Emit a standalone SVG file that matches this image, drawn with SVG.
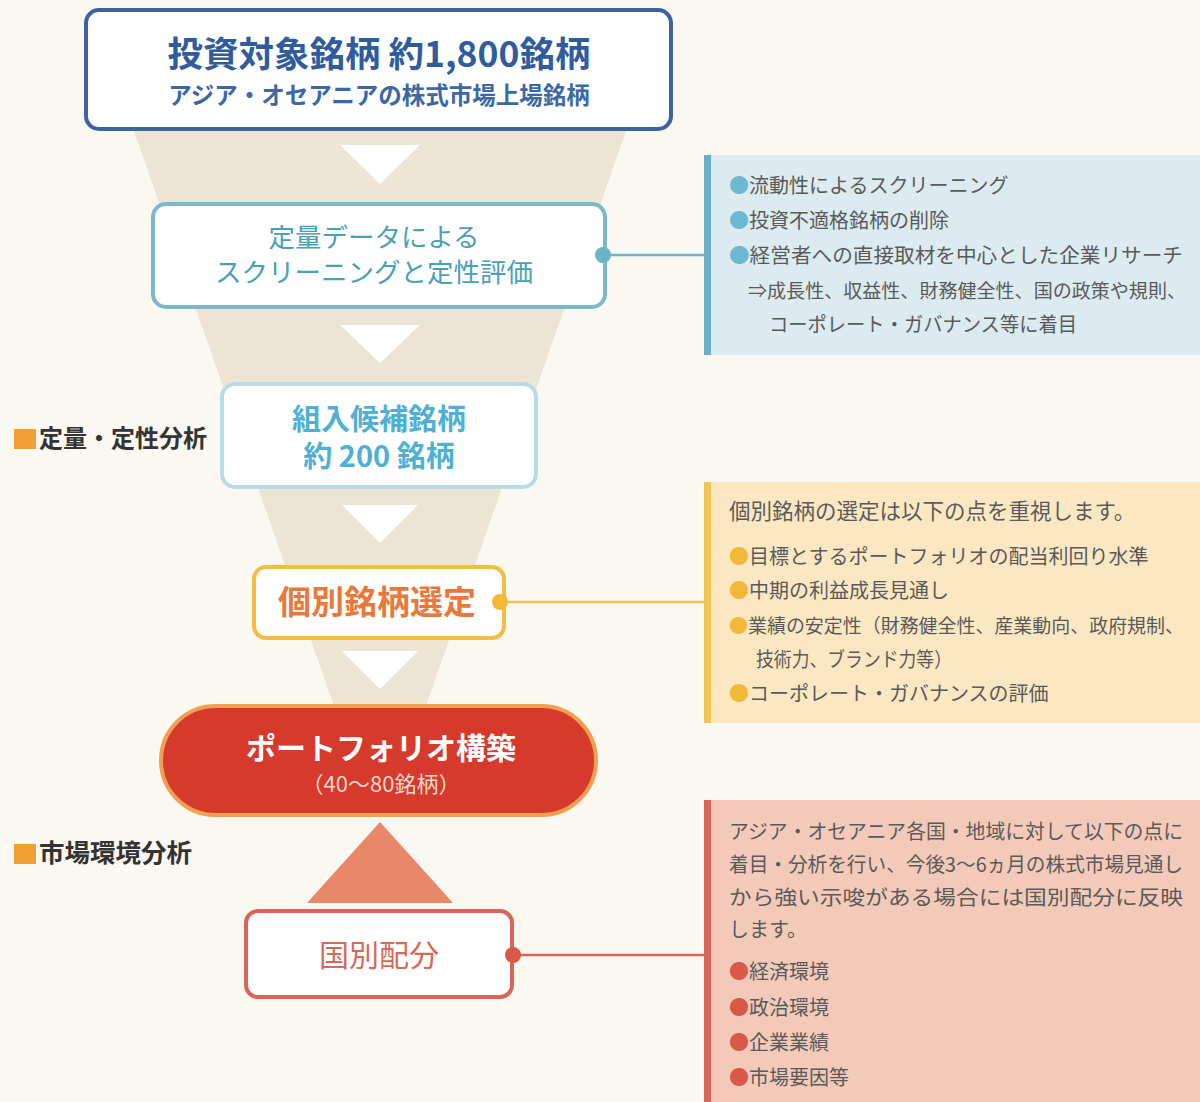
<svg xmlns="http://www.w3.org/2000/svg" width="1200" height="1102" viewBox="0 0 1200 1102">
<style>
text{font-family:"Noto Sans CJK JP","Noto Sans",sans-serif;}
.box{fill:#ffffff;stroke-width:4;}
.tri{fill:#ffffff;}
.ptxt{font-size:20px;fill:#5a5a5a;}
.lbl{font-size:24px;font-weight:bold;fill:#333333;}
.b1{fill:#6cb8d0;}
.b2{fill:#f2b83a;}
.b3{fill:#d9584a;}
.c{text-anchor:middle;}
</style>
<rect x="0" y="0" width="1200" height="1102" fill="#faf8f1"/>
<polygon points="133,128 627,128 424,712 336,712" fill="#ede5d4"/>

<g id="panel-screening">
<rect x="706" y="155" width="494" height="200" fill="#dcebf0"/>
<rect x="704" y="155" width="7" height="200" fill="#6aafc5"/>
<text class="ptxt" x="729" y="193"><tspan class="b1">●</tspan>流動性によるスクリーニング</text>
<text class="ptxt" x="729" y="228"><tspan class="b1">●</tspan>投資不適格銘柄の削除</text>
<text class="ptxt" x="729" y="263" textLength="454" lengthAdjust="spacingAndGlyphs"><tspan class="b1">●</tspan>経営者への直接取材を中心とした企業リサーチ</text>
<text class="ptxt" x="748" y="298" style="font-size:19px" textLength="438" lengthAdjust="spacingAndGlyphs">⇒成長性、収益性、財務健全性、国の政策や規則、</text>
<text class="ptxt" x="769" y="332" textLength="308" lengthAdjust="spacingAndGlyphs">コーポレート・ガバナンス等に着目</text>
</g>

<g id="panel-selection">
<rect x="706" y="482" width="494" height="241" fill="#fbe8c2"/>
<rect x="704" y="482" width="7" height="241" fill="#f2c456"/>
<text class="ptxt" x="729" y="519" style="font-size:21.5px">個別銘柄の選定は以下の点を重視します。</text>
<text class="ptxt" x="729" y="564"><tspan class="b2">●</tspan>目標とするポートフォリオの配当利回り水準</text>
<text class="ptxt" x="729" y="598"><tspan class="b2">●</tspan>中期の利益成長見通し</text>
<text class="ptxt" x="729" y="633" style="font-size:19px" textLength="455" lengthAdjust="spacingAndGlyphs"><tspan class="b2">●</tspan>業績の安定性（財務健全性、産業動向、政府規制、</text>
<text class="ptxt" x="756" y="667" textLength="196" lengthAdjust="spacingAndGlyphs">技術力、ブランド力等）</text>
<text class="ptxt" x="729" y="701"><tspan class="b2">●</tspan>コーポレート・ガバナンスの評価</text>
</g>

<g id="panel-country">
<rect x="706" y="800" width="494" height="302" fill="#f3cab9"/>
<rect x="704" y="800" width="7" height="302" fill="#d9655a"/>
<text class="ptxt" x="729" y="839" textLength="454" lengthAdjust="spacingAndGlyphs">アジア・オセアニア各国・地域に対して以下の点に</text>
<text class="ptxt" x="729" y="872" textLength="454" lengthAdjust="spacingAndGlyphs">着目・分析を行い、今後3～6ヵ月の株式市場見通し</text>
<text class="ptxt" x="729" y="905" textLength="454" lengthAdjust="spacingAndGlyphs">から強い示唆がある場合には国別配分に反映</text>
<text class="ptxt" x="729" y="937">します。</text>
<text class="ptxt" x="729" y="979"><tspan class="b3">●</tspan>経済環境</text>
<text class="ptxt" x="729" y="1015"><tspan class="b3">●</tspan>政治環境</text>
<text class="ptxt" x="729" y="1050"><tspan class="b3">●</tspan>企業業績</text>
<text class="ptxt" x="729" y="1085"><tspan class="b3">●</tspan>市場要因等</text>
</g>

<g id="node-universe">
<rect class="box" x="86" y="10" width="585" height="119" rx="13" stroke="#3d62a3"/>
<text class="c" x="379" y="67" style="font-size:35.5px;font-weight:bold;fill:#2f5c9c">投資対象銘柄 約1,800銘柄</text>
<text class="c" x="379" y="104" style="font-size:23.5px;font-weight:bold;fill:#3c68a6">アジア・オセアニアの株式市場上場銘柄</text>
</g>

<g id="node-screening">
<rect class="box" x="153" y="204" width="452" height="103" rx="13" stroke="#7cb8ca"/>
<text class="c" style="font-size:26.5px;fill:#4aa0b8"><tspan x="374" y="247">定量データによる</tspan><tspan x="374" y="282">スクリーニングと定性評価</tspan></text>
</g>

<g id="node-candidates">
<rect class="box" x="222" y="384" width="314" height="103" rx="13" stroke="#b8dbe6"/>
<text class="c" style="font-size:29px;font-weight:bold;fill:#4fb0d6"><tspan x="379" y="430">組入候補銘柄</tspan><tspan x="379" y="467">約 200 銘柄</tspan></text>
</g>

<g id="node-selection">
<rect class="box" x="254" y="567" width="250" height="71" rx="12" stroke="#f2bc45"/>
<text class="c" x="377" y="614" style="font-size:33px;font-weight:bold;fill:#e8793a">個別銘柄選定</text>
</g>

<g id="node-portfolio">
<rect x="161" y="706" width="435" height="109" rx="54.5" fill="#d53a2c" stroke="#f0a050" stroke-width="4"/>
<text class="c" x="381" y="759" style="font-size:30px;font-weight:bold;fill:#ffffff">ポートフォリオ構築</text>
<text class="c" x="381" y="792" style="font-size:22px;fill:#f8d6c8">（40～80銘柄）</text>
</g>

<g id="node-country">
<rect class="box" x="246" y="911" width="266" height="86" rx="12" stroke="#d9655a"/>
<text class="c" x="379" y="966" style="font-size:30px;fill:#d86858">国別配分</text>
</g>

<g id="label-quant">
<rect x="14" y="429" width="22" height="20" fill="#f0a035"/>
<text class="lbl" x="39" y="447">定量・定性分析</text>
</g>
<g id="label-market">
<rect x="14" y="844" width="22" height="20" fill="#f0a035"/>
<text class="lbl" x="39" y="862" style="font-size:25.5px">市場環境分析</text>
</g>

<g id="connectors">
<polygon class="tri" points="340,145 420,145 380,184"/>
<polygon class="tri" points="340,325 420,325 380,363"/>
<polygon class="tri" points="342,505 418,505 380,543"/>
<polygon class="tri" points="342,651 418,651 380,689"/>
<polygon points="380,822 453,903 307,903" fill="#e8876a"/>
<line x1="603" y1="255" x2="706" y2="255" stroke="#6eb4c8" stroke-width="2.5"/>
<circle cx="603" cy="255" r="8" fill="#6eb4c8"/>
<line x1="500" y1="602" x2="706" y2="602" stroke="#f2c25a" stroke-width="2.5"/>
<circle cx="500" cy="602" r="8" fill="#f2b83a"/>
<line x1="513" y1="955" x2="706" y2="955" stroke="#d9655a" stroke-width="2.5"/>
<circle cx="513" cy="955" r="8" fill="#d9584a"/>
</g>
</svg>
